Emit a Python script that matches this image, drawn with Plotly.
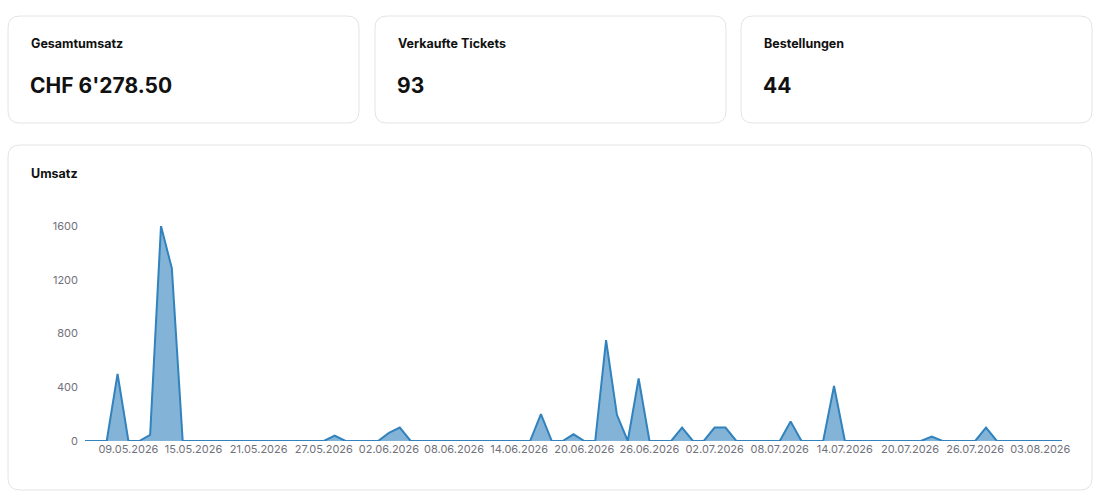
import pandas as pd
import plotly.graph_objects as go

# ---- data -------------------------------------------------------------
kpi_titles = ["Gesamtumsatz", "Verkaufte Tickets", "Bestellungen"]
kpi_values = ["CHF 6'278.50", "93", "44"]

# one category per day with sales data (two days missing at end of July)
days = [d for d in pd.date_range("2026-05-05", "2026-08-05")
        if d.strftime("%d.%m") not in ("28.07", "29.07")]
dates = [d.strftime("%d.%m.%Y") for d in days]

# revenue per day (CHF); non-zero days only
revenue_by_day = {
    "08.05.2026": 500, "11.05.2026": 45, "12.05.2026": 1600, "13.05.2026": 1285,
    "28.05.2026": 40, "02.06.2026": 60, "03.06.2026": 100, "16.06.2026": 200,
    "19.06.2026": 50, "22.06.2026": 750.5, "23.06.2026": 195, "25.06.2026": 465,
    "29.06.2026": 100, "02.07.2026": 100, "03.07.2026": 100, "09.07.2026": 145,
    "13.07.2026": 410, "22.07.2026": 33, "27.07.2026": 100,
}
revenue = [revenue_by_day.get(d, 0) for d in dates]

tick_labels = ["09.05.2026", "15.05.2026", "21.05.2026", "27.05.2026", "02.06.2026",
               "08.06.2026", "14.06.2026", "20.06.2026", "26.06.2026", "02.07.2026",
               "08.07.2026", "14.07.2026", "20.07.2026", "26.07.2026", "03.08.2026"]
y_ticks = [0, 400, 800, 1200, 1600]

# ---- layout helpers ---------------------------------------------------
W, H = 1107, 501
FONT = "Inter, Roboto, sans-serif"


def px(x):
    return x / W


def py(y):
    return 1 - y / H


def card(x0, y0, x1, y1, r=12):
    p = (f"M {px(x0 + r)} {py(y0)} L {px(x1 - r)} {py(y0)} "
         f"Q {px(x1)} {py(y0)} {px(x1)} {py(y0 + r)} "
         f"L {px(x1)} {py(y1 - r)} Q {px(x1)} {py(y1)} {px(x1 - r)} {py(y1)} "
         f"L {px(x0 + r)} {py(y1)} Q {px(x0)} {py(y1)} {px(x0)} {py(y1 - r)} "
         f"L {px(x0)} {py(y0 + r)} Q {px(x0)} {py(y0)} {px(x0 + r)} {py(y0)} Z")
    return dict(type="path", path=p, xref="paper", yref="paper",
                line=dict(color="#e4e4e7", width=1), fillcolor="white", layer="below")


def label(x, y, text, size):
    return dict(x=px(x), y=py(y), xref="paper", yref="paper", text=f"<b>{text}</b>",
                xanchor="left", yanchor="middle", showarrow=False,
                font=dict(family=FONT, size=size, color="#111111"))


fig = go.Figure()

fig.add_trace(go.Scatter(
    x=dates, y=revenue, mode="lines", fill="tozeroy",
    line=dict(color="#3182bd", width=2),
    fillcolor="rgba(49,130,189,0.6)",
    cliponaxis=False, hoverinfo="x+y",
))

shapes = []
annotations = []
card_x = [(8, 359), (375, 726), (741, 1092)]
for (x0, x1), title, val in zip(card_x, kpi_titles, kpi_values):
    shapes.append(card(x0, 16, x1, 123))
    annotations.append(label(x0 + 21, 44, title, 12.5))
    annotations.append(label(x0 + 20, 86, val, 21))

shapes.append(card(8, 145, 1092, 490))
annotations.append(label(29, 173, "Umsatz", 12.5))

n = len(dates)
fig.update_layout(
    autosize=True,
    margin=dict(l=0, r=0, t=0, b=0, autoexpand=False),
    paper_bgcolor="white", plot_bgcolor="rgba(0,0,0,0)",
    showlegend=False,
    shapes=shapes, annotations=annotations,
    font=dict(family=FONT),
    xaxis=dict(
        type="category", domain=[px(85), px(1062)], range=[0, n - 1],
        tickmode="array", tickvals=tick_labels, ticktext=tick_labels,
        showgrid=False, zeroline=False, showline=False, ticks="",
        tickfont=dict(family=FONT, size=11, color="#71717a"),
        fixedrange=True, automargin=False,
    ),
    yaxis=dict(
        domain=[py(441), py(226)], range=[0, 1600],
        tickmode="array", tickvals=y_ticks,
        showgrid=False, zeroline=False, showline=False, ticks="",
        ticklabelstandoff=6,
        tickfont=dict(family=FONT, size=11, color="#71717a"),
        fixedrange=True, automargin=False,
    ),
)

fig.write_html(
    "out.html",
    default_width="100vw", default_height="100vh",
    config={"displayModeBar": False, "responsive": True},
    post_script="document.body.style.margin='0';document.body.style.overflow='hidden';",
)
